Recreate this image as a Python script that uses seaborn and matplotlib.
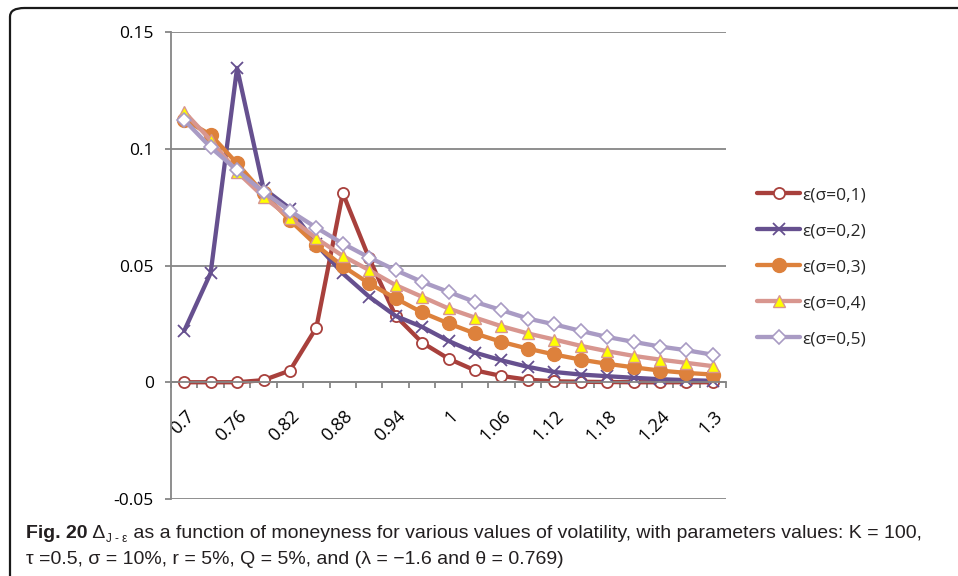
import matplotlib
matplotlib.use("Agg")
import matplotlib.pyplot as plt
import matplotlib.transforms as mtransforms
from matplotlib.patches import FancyBboxPatch
from matplotlib.lines import Line2D
import seaborn as sns
import pandas as pd
import numpy as np

# moneyness categories (Excel category axis)
moneyness = [0.7, 0.73, 0.76, 0.79, 0.82, 0.85, 0.88, 0.91, 0.94, 0.97, 1.0,
             1.03, 1.06, 1.09, 1.12, 1.15, 1.18, 1.21, 1.24, 1.27, 1.3]
tick_labels = ['0.7', '0.76', '0.82', '0.88', '0.94', '1', '1.06', '1.12', '1.18', '1.24', '1.3']

eps_01 = [0.0, 0.0, 0.0, 0.0009, 0.005, 0.0234, 0.081, 0.053, 0.0284, 0.017, 0.0101,
          0.0051, 0.0027, 0.0011, 0.0004, 0.0002, 0.0001, 0.0, 0.0, 0.0, 0.0]
eps_02 = [0.022, 0.0468, 0.1346, 0.083, 0.0744, 0.059, 0.0466, 0.0366, 0.0284, 0.0237, 0.0177,
          0.0127, 0.0094, 0.0066, 0.0044, 0.0033, 0.0026, 0.0019, 0.0013, 0.0009, 0.0006]
eps_03 = [0.1125, 0.106, 0.0937, 0.0809, 0.0694, 0.0587, 0.0497, 0.0423, 0.0359, 0.0299, 0.0252,
          0.0209, 0.0173, 0.0144, 0.0119, 0.0097, 0.0079, 0.0064, 0.005, 0.004, 0.0033]
eps_04 = [0.1158, 0.1037, 0.0901, 0.0794, 0.0705, 0.0616, 0.0541, 0.048, 0.0416, 0.0366, 0.0316,
          0.0277, 0.024, 0.0209, 0.0183, 0.0156, 0.0133, 0.0113, 0.0097, 0.0083, 0.0069]
eps_05 = [0.1123, 0.1006, 0.0908, 0.0815, 0.0734, 0.0662, 0.0594, 0.0534, 0.048, 0.043, 0.0387,
          0.0344, 0.0309, 0.0273, 0.0248, 0.022, 0.0194, 0.0173, 0.0153, 0.0137, 0.0118]

series_names = ['ε(σ=0,1)', 'ε(σ=0,2)', 'ε(σ=0,3)', 'ε(σ=0,4)', 'ε(σ=0,5)']
series_values = [eps_01, eps_02, eps_03, eps_04, eps_05]

# line colour, marker, face, edge, size
styles = [
    dict(color='#A8403C', marker='o', mfc='white', mec='#A8403C', ms=8, mew=1.3),
    dict(color='#66508F', marker='x', mfc='#66508F', mec='#66508F', ms=9, mew=1.3),
    dict(color='#DD813C', marker='o', mfc='#DD813C', mec='#DD813C', ms=10, mew=1.0),
    dict(color='#D8968F', marker='^', mfc='#FFFF00', mec='#D8968F', ms=9, mew=1.0),
    dict(color='#A99BC4', marker='D', mfc='white', mec='#A99BC4', ms=7.5, mew=1.2),
]
lw = 3.1

rows = []
for name, vals in zip(series_names, series_values):
    for i, (m, v) in enumerate(zip(moneyness, vals)):
        rows.append({'series': name, 'pos': i, 'moneyness': m, 'value': v})
df = pd.DataFrame(rows)

sns.set_style('white')
plt.rcParams['font.family'] = ['Open Sans', 'DejaVu Sans']

W, H = 958, 576
fig = plt.figure(figsize=(W / 100, H / 100), dpi=100)
ax = fig.add_axes([171 / W, 1 - 499 / H, (726 - 171) / W, (499 - 32) / H])

grid_col = '#868686'
for name, st in zip(series_names, styles):
    sub = df[df['series'] == name]
    sns.lineplot(data=sub, x='pos', y='value', ax=ax, color=st['color'], linewidth=lw,
                 marker=st['marker'], markersize=st['ms'], markerfacecolor=st['mfc'],
                 markeredgecolor=st['mec'], markeredgewidth=st['mew'], sort=False,
                 estimator=None, legend=False)

ax.set_xlim(-0.5, len(moneyness) - 0.5)
ax.set_ylim(-0.05, 0.15)
ax.set_yticks([-0.05, 0, 0.05, 0.1, 0.15])
ax.set_yticklabels(['-0.05', '0', '0.05', '0.1', '0.15'])
ax.yaxis.grid(True, color=grid_col, linewidth=1.3)
ax.xaxis.grid(False)
ax.set_axisbelow(True)
ax.set_xlabel('')
ax.set_ylabel('')

for s in ['top', 'right']:
    ax.spines[s].set_visible(False)
ax.spines['left'].set_color(grid_col)
ax.spines['left'].set_linewidth(1.3)
ax.spines['bottom'].set_position(('data', 0))
ax.spines['bottom'].set_color(grid_col)
ax.spines['bottom'].set_linewidth(1.3)

ax.tick_params(axis='y', which='major', direction='out', length=4.5, width=1.3,
               color=grid_col, labelsize=12.5, pad=8, labelcolor='black', left=True)

# category labels every other point, tick marks between categories
ax.set_xticks(np.arange(0, len(moneyness), 2))
ax.set_xticklabels(tick_labels)
ax.set_xticks(np.arange(-0.5, len(moneyness), 1), minor=True)
ax.tick_params(axis='x', which='major', length=0, labelsize=13, pad=18, labelcolor='black')
ax.tick_params(axis='x', which='minor', direction='out', length=4.5, width=1.3,
               color=grid_col, bottom=True)
offset = mtransforms.ScaledTranslation(0.5 / 72, 0, fig.dpi_scale_trans)
for lab in ax.get_xticklabels():
    lab.set_rotation(45)
    lab.set_ha('right')
    lab.set_va('top')
    lab.set_rotation_mode('anchor')
    lab.set_transform(lab.get_transform() + offset)

# legend
handles = [Line2D([], [], color=st['color'], linewidth=lw, marker=st['marker'],
                  markersize=st['ms'], markerfacecolor=st['mfc'], markeredgecolor=st['mec'],
                  markeredgewidth=st['mew']) for st in styles]
fig.legend(handles, series_names, loc='upper left', bbox_to_anchor=(750 / W, 1 - 180 / H),
           frameon=False, fontsize=12.5, handlelength=2.5, handletextpad=0.1,
           labelspacing=1.15, borderaxespad=0)

# border around the figure panel
fig.patches.append(FancyBboxPatch((10 / W, -0.05), 1.2, 1.05 - 8 / H,
                                  boxstyle='round,pad=0,rounding_size=0.015',
                                  transform=fig.transFigure, fill=False,
                                  edgecolor='#1a1a1a', linewidth=1.6, clip_on=False))

# caption
cap_font = ['Liberation Sans', 'DejaVu Sans']
cap_size = 14
cap_col = '#231f20'
t1 = fig.text(26 / W, 1 - 538 / H, 'Fig. 20', fontsize=cap_size, fontweight='bold',
              family=cap_font, color=cap_col, va='baseline')
t2 = ax.annotate(' Δ', xy=(1, 0), xycoords=t1, va='bottom', ha='left',
                 fontsize=cap_size, family=cap_font, color=cap_col, annotation_clip=False)
t3 = ax.annotate('J - ε', xy=(1, 0), xycoords=t2, xytext=(1, -2), textcoords='offset points',
                 va='bottom', ha='left', fontsize=cap_size * 0.6, family=cap_font,
                 color=cap_col, annotation_clip=False)
ax.annotate(' as a function of moneyness for various values of volatility, with parameters values: K = 100,',
            xy=(1, 0), xycoords=(t3, t2), xytext=(0, 0), textcoords='offset points',
            va='bottom', ha='left', fontsize=cap_size, family=cap_font, color=cap_col,
            annotation_clip=False)
fig.text(26 / W, 1 - 564 / H, 'τ =0.5, σ = 10%, r = 5%, Q = 5%, and (λ = −1.6 and θ = 0.769)',
         fontsize=cap_size, family=cap_font, color=cap_col, va='baseline')

fig.savefig('out.png', dpi=100)
